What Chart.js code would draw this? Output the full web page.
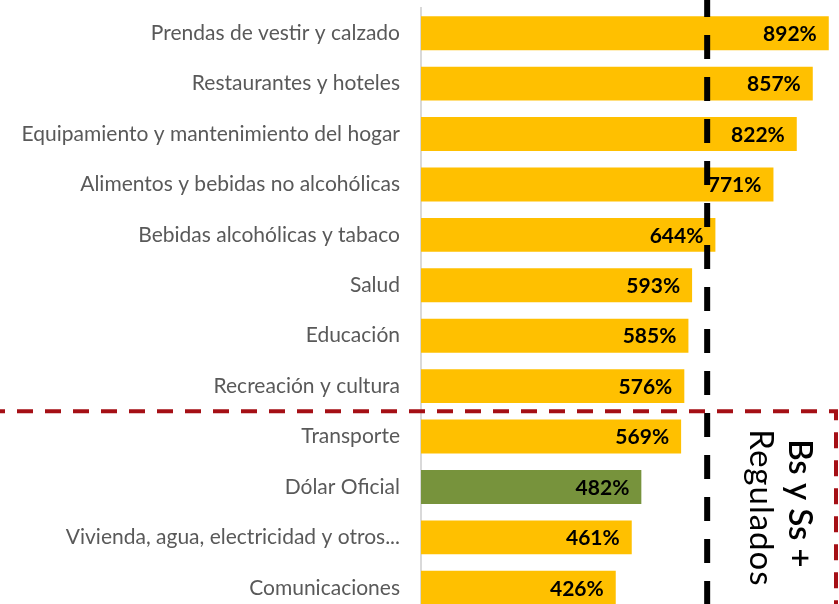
<!DOCTYPE html>
<html>
<head>
<meta charset="utf-8">
<script src="https://cdn.jsdelivr.net/npm/chart.js@4/dist/chart.umd.min.js"></script>
<style>
  html, body { margin: 0; padding: 0; background: #fff; overflow: hidden; }
  canvas { display: block; }
</style>
</head>
<body>
<canvas id="inflChart" width="839" height="614"></canvas>
<script>
const categories = [
  'Prendas de vestir y calzado',
  'Restaurantes y hoteles',
  'Equipamiento y mantenimiento del hogar',
  'Alimentos y bebidas no alcohólicas',
  'Bebidas alcohólicas y tabaco',
  'Salud',
  'Educación',
  'Recreación y cultura',
  'Transporte',
  'Dólar Oficial',
  'Vivienda, agua, electricidad y otros...',
  'Comunicaciones'
];
const values = [892, 857, 822, 771, 644, 593, 585, 576, 569, 482, 461, 426];
const barColors = categories.map(c => c === 'Dólar Oficial' ? '#77933C' : '#FFC000');
const thresholdValue = 626;
const boxLabel = ['Bs y Ss +', 'Regulados'];

const overlay = {
  id: 'overlay',
  afterDatasetsDraw(chart) {
    const ctx = chart.ctx;
    const x = chart.scales.x, y = chart.scales.y;
    const meta = chart.getDatasetMeta(0);

    // value labels at the end of each bar
    ctx.save();
    ctx.font = 'bold 21px Lato';
    ctx.fillStyle = '#000';
    ctx.textAlign = 'right';
    ctx.textBaseline = 'middle';
    meta.data.forEach((bar, i) => {
      ctx.fillText(values[i] + '%', bar.x - 12, bar.y + 1);
    });
    ctx.restore();

    // black dashed threshold line
    const tx = x.getPixelForValue(thresholdValue);
    ctx.save();
    ctx.strokeStyle = '#000';
    ctx.lineWidth = 6;
    ctx.setLineDash([24, 18]);
    ctx.lineDashOffset = 7;
    ctx.beginPath();
    ctx.moveTo(tx, 0);
    ctx.lineTo(tx, chart.height);
    ctx.stroke();
    ctx.restore();

    // red dashed box around the regulated group
    const boxTop = (y.getPixelForValue(7) + y.getPixelForValue(8)) / 2;
    ctx.save();
    ctx.strokeStyle = '#A50F15';
    ctx.lineWidth = 4;
    ctx.setLineDash([16, 12]);
    ctx.lineDashOffset = 11;
    ctx.beginPath();
    ctx.moveTo(0, boxTop);
    ctx.lineTo(836, boxTop);
    ctx.lineTo(836, chart.height);
    ctx.stroke();
    ctx.restore();

    // rotated label
    ctx.save();
    ctx.fillStyle = '#000';
    ctx.textAlign = 'left';
    ctx.textBaseline = 'alphabetic';
    ctx.font = '600 33px Lato';
    ctx.translate(789, boxTop + 28);
    ctx.rotate(Math.PI / 2);
    ctx.fillText(boxLabel[0], 0, 0);
    ctx.restore();

    ctx.save();
    ctx.fillStyle = '#000';
    ctx.textAlign = 'left';
    ctx.textBaseline = 'alphabetic';
    ctx.font = '33px Lato';
    ctx.letterSpacing = '1px';
    ctx.translate(750, boxTop + 18);
    ctx.rotate(Math.PI / 2);
    ctx.fillText(boxLabel[1], 0, 0);
    ctx.restore();
  }
};

new Chart(document.getElementById('inflChart').getContext('2d'), {
  type: 'bar',
  data: {
    labels: categories,
    datasets: [{
      data: values,
      backgroundColor: barColors,
      categoryPercentage: 1,
      barPercentage: 0.674
    }]
  },
  options: {
    indexAxis: 'y',
    responsive: false,
    animation: false,
    layout: { padding: { top: 8, right: 2, bottom: 1, left: 0 } },
    plugins: { legend: { display: false }, tooltip: { enabled: false } },
    scales: {
      x: {
        min: 0,
        max: 910,
        display: false,
        grid: { display: false }
      },
      y: {
        afterFit(scale) {
          scale.width = 421;
          scale.paddingTop = 0;
          scale.paddingBottom = 0;
        },
        grid: { display: false },
        border: { display: true, color: '#D9D9D9', width: 2 },
        ticks: {
          color: '#595959',
          font: { family: 'Lato', size: 21 },
          padding: 13
        }
      }
    }
  },
  plugins: [overlay]
});
</script>
</body>
</html>
